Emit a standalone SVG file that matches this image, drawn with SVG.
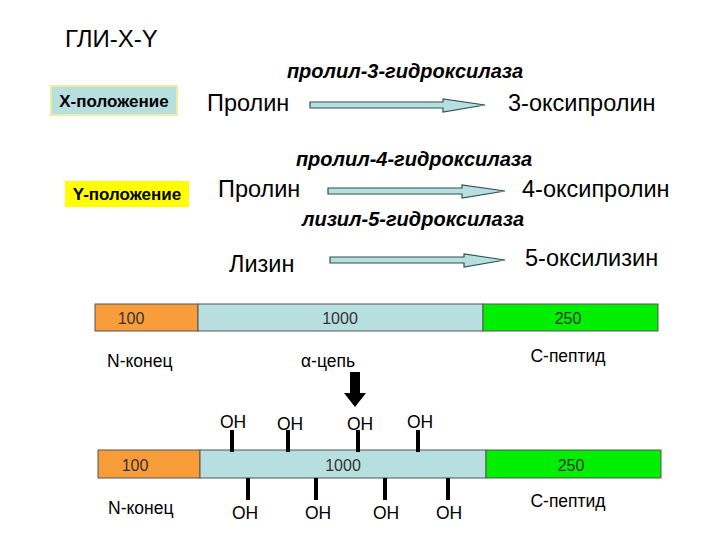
<svg xmlns="http://www.w3.org/2000/svg" width="720" height="540" viewBox="0 0 720 540">
<defs>
<style>
text{font-family:"Liberation Sans",Arial,sans-serif;fill:#000}
.big{font-size:23.5px}
.enz{font-size:20px;font-weight:bold;font-style:italic;text-anchor:middle}
.lab{font-size:17.5px}
.num{font-size:16px;text-anchor:middle;fill:#333}
.oh{font-size:17.5px;text-anchor:middle}
.box{font-size:17px;font-weight:bold;text-anchor:middle}
.arr{fill:#b8dfe0;stroke:#2f4f4f;stroke-width:1.2}
.tick{stroke:#000;stroke-width:4}
.bar{stroke:#555;stroke-width:1}
</style>
</defs>
<rect width="720" height="540" fill="#fff"/>
<text x="65" y="47" style="font-size:24px">ГЛИ-X-Y</text>

<g id="x-pos">
<rect x="51" y="86" width="126" height="29" fill="#b8dfe0" stroke="#e8efa0" stroke-width="2"/>
<text x="114" y="107" class="box">X-положение</text>
</g>
<g id="y-pos">
<rect x="65" y="181" width="124" height="26" fill="#ffff00"/>
<text x="127" y="200" class="box">Y-положение</text>
</g>

<g id="r1">
<text x="405" y="78" class="enz">пролил-3-гидроксилаза</text>
<text x="207" y="111" class="big">Пролин</text>
<text x="508" y="111" class="big">3-оксипролин</text>
</g>
<g id="r2">
<text x="414" y="166" class="enz">пролил-4-гидроксилаза</text>
<text x="218" y="197" class="big">Пролин</text>
<text x="522" y="197" class="big">4-оксипролин</text>
</g>
<g id="r3">
<text x="413" y="226" class="enz">лизил-5-гидроксилаза</text>
<text x="229" y="272" class="big">Лизин</text>
<text x="525" y="266" class="big">5-оксилизин</text>
</g>

<g id="connectors">
<path class="arr" d="M310,102 H443 V99 L485,105 L443,112 V108 H310 Z"/>
<path class="arr" d="M328,188 H462 V185 L505,191 L462,198 V194 H328 Z"/>
<path class="arr" d="M330,257 H464 V254 L505,260 L464,267 V263 H330 Z"/>
<path d="M350,372 H360 V393 H366 L355,407 L344,393 H350 Z" fill="#000"/>
</g>

<g id="bar1">
<rect class="bar" x="95" y="304" width="103" height="27" fill="#f99d3a"/>
<rect class="bar" x="198" y="304" width="285" height="27" fill="#b8dfe0"/>
<rect class="bar" x="483" y="304" width="175" height="27" fill="#00ee00"/>
<text x="131" y="324" class="num">100</text>
<text x="340" y="324" class="num">1000</text>
<text x="568" y="324" class="num">250</text>
<text x="107" y="367" class="lab">N-конец</text>
<text x="328" y="367" class="lab" text-anchor="middle">α-цепь</text>
<text x="568" y="362" class="lab" text-anchor="middle">С-пептид</text>
</g>

<g id="bar2">
<rect class="bar" x="98" y="450" width="102" height="28" fill="#f99d3a"/>
<rect class="bar" x="200" y="450" width="286" height="28" fill="#b8dfe0"/>
<rect class="bar" x="486" y="450" width="175" height="28" fill="#00ee00"/>
<text x="135" y="471" class="num">100</text>
<text x="343" y="471" class="num">1000</text>
<text x="571" y="471" class="num">250</text>
<text x="108" y="514" class="lab">N-конец</text>
<text x="568" y="507" class="lab" text-anchor="middle">С-пептид</text>
<line class="tick" x1="232" y1="430" x2="232" y2="452"/>
<line class="tick" x1="288" y1="430" x2="288" y2="452"/>
<line class="tick" x1="358" y1="430" x2="358" y2="452"/>
<line class="tick" x1="418" y1="430" x2="418" y2="452"/>
<line class="tick" x1="248" y1="478" x2="248" y2="500"/>
<line class="tick" x1="316" y1="478" x2="316" y2="500"/>
<line class="tick" x1="385" y1="478" x2="385" y2="500"/>
<line class="tick" x1="448" y1="478" x2="448" y2="500"/>
<text x="233" y="428" class="oh">OH</text>
<text x="290" y="430" class="oh">OH</text>
<text x="360" y="430" class="oh">OH</text>
<text x="420" y="428" class="oh">OH</text>
<text x="245" y="519" class="oh">OH</text>
<text x="318" y="519" class="oh">OH</text>
<text x="386" y="519" class="oh">OH</text>
<text x="449" y="519" class="oh">OH</text>
</g>
</svg>
